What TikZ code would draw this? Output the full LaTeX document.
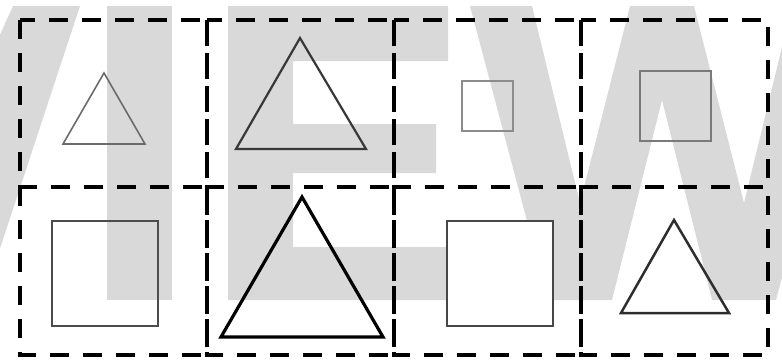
\documentclass[tikz,border=0pt]{standalone}
\begin{document}
\begin{tikzpicture}[x=1pt,y=-1pt,
  wm/.style={fill=wmgray, draw=none},
  cellbox/.style={draw=black, line width=3.4pt, dash pattern=on 19pt off 14pt},
  shp/.style={line join=miter}]
\definecolor{wmgray}{RGB}{217,217,217}
\useasboundingbox (0,0) rectangle (782,360);
\begin{scope}
\clip (0,0) rectangle (782,360);
% watermark letters "VIEW" (partly cut)
\fill[wm] (13,6) -- (80,6) -- (-17,300) -- (-120,300) -- cycle;
\fill[wm] (107,6) rectangle (172,300);
\fill[wm] (228,6) -- (448,6) -- (448,61) -- (293,61) -- (293,124) -- (436,124)
  -- (436,173) -- (293,173) -- (293,247) -- (450,247) -- (450,300) -- (228,300) -- cycle;
\fill[wm] (470,6) -- (532,6) -- (580,203) -- (630,6) -- (694,6) -- (744,203)
  -- (792,6) -- (854,6) -- (776,300) -- (712,300) -- (662,100) -- (612,300)
  -- (548,300) -- cycle;
\end{scope}
% dashed cells
\foreach \xa/\xb in {20/207,207/394,394/581,581/768}{
  \foreach \ya/\yb in {20/187,187/355}{
    \draw[cellbox] (\xa,\ya) rectangle (\xb,\yb);
  }
}
% shapes, top row
\draw[shp, draw=black!58, line width=1.6pt] (104,73) -- (63,144) -- (145,144) -- cycle;
\draw[shp, draw=black!78, line width=2.2pt] (300,38) -- (236,149) -- (366,149) -- cycle;
\draw[shp, draw=black!45, line width=1.5pt] (462,81) rectangle (513,131);
\draw[shp, draw=black!52, line width=1.7pt] (640,71) rectangle (711,141);
% shapes, bottom row
\draw[shp, draw=black!70, line width=2.2pt] (52,221) rectangle (158,326);
\draw[shp, draw=black, line width=3.2pt] (302,197) -- (221,337) -- (383,337) -- cycle;
\draw[shp, draw=black!72, fill=white, line width=2.2pt] (447,221) rectangle (553,326);
\draw[shp, draw=black!82, line width=2.5pt] (674,220) -- (621,313) -- (729,313) -- cycle;
\end{tikzpicture}
\end{document}
